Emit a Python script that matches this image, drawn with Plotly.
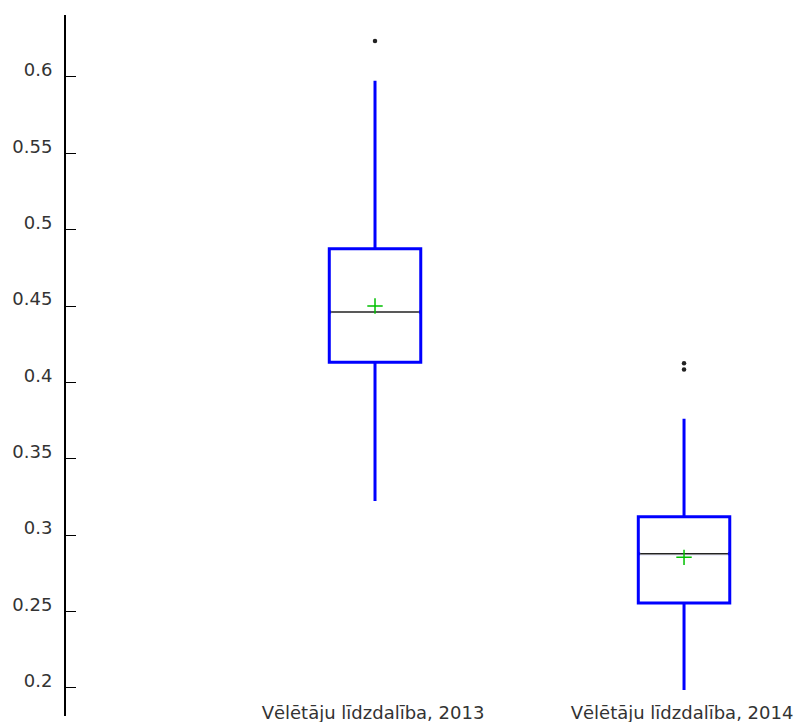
import plotly.graph_objects as go

# ---- data ----
categories = ["Vēlētāju līdzdalība, 2013", "Vēlētāju līdzdalība, 2014"]
positions = [1, 2]
q1_vals = [0.4131, 0.2555]
median_vals = [0.4461, 0.2878]
q3_vals = [0.4875, 0.3120]
lower_whisker = [0.3223, 0.1985]
upper_whisker = [0.5976, 0.3762]
mean_vals = [0.4500, 0.2854]
outliers = [[0.6236], [0.4125, 0.4085]]
y_tickvals = [0.2, 0.25, 0.3, 0.35, 0.4, 0.45, 0.5, 0.55, 0.6]
y_ticktext = ["0.2", "0.25", "0.3", "0.35", "0.4", "0.45", "0.5", "0.55", "0.6"]

# ---- style ----
BOX_W = 0.296
BLUE = "#0000ff"
GREEN = "#00c000"
TXT = "#333333"
FONT = "DejaVu Sans"

fig = go.Figure()

for i, pos in enumerate(positions):
    fig.add_trace(go.Box(
        x=[pos], q1=[q1_vals[i]], median=[median_vals[i]], q3=[q3_vals[i]],
        lowerfence=[lower_whisker[i]], upperfence=[upper_whisker[i]],
        width=BOX_W, whiskerwidth=0, boxpoints=False,
        line=dict(color=BLUE, width=3), fillcolor="rgba(255,255,255,0)",
        hoverinfo="skip", showlegend=False,
    ))
    # hide the blue median, then draw a black one
    eps = 0.006
    fig.add_trace(go.Scatter(
        x=[pos - BOX_W / 2 + eps, pos + BOX_W / 2 - eps],
        y=[median_vals[i], median_vals[i]], mode="lines",
        line=dict(color="white", width=4), hoverinfo="skip", showlegend=False,
    ))
    fig.add_trace(go.Scatter(
        x=[pos - BOX_W / 2 + eps, pos + BOX_W / 2 - eps],
        y=[median_vals[i], median_vals[i]], mode="lines",
        line=dict(color="#222222", width=1.5), hoverinfo="skip", showlegend=False,
    ))
    fig.add_trace(go.Scatter(
        x=[pos], y=[mean_vals[i]], mode="markers",
        marker=dict(symbol="cross-thin", size=11, line=dict(color=GREEN, width=1.5)),
        hoverinfo="skip", showlegend=False,
    ))
    fig.add_trace(go.Scatter(
        x=[pos] * len(outliers[i]), y=outliers[i], mode="markers",
        marker=dict(symbol="circle", size=4.5, color="#222222"),
        hoverinfo="skip", showlegend=False,
    ))

fig.update_layout(
    width=795, height=714,
    margin=dict(l=58, r=0, t=7, b=6, autoexpand=False),
    paper_bgcolor="white", plot_bgcolor="white",
    font=dict(family=FONT, color=TXT, size=16),
    showlegend=False,
)
fig.update_yaxes(
    automargin=False,
    range=[0.1815, 0.6406], tickvals=y_tickvals, ticktext=y_ticktext,
    ticks="inside", ticklen=10, tickwidth=1, tickcolor="black",
    showline=True, linecolor="black", linewidth=2,
    showgrid=False, zeroline=False, ticklabelstandoff=8, ticklabelshift=-7,
    tickfont=dict(family=FONT, size=18, color=TXT),
)
fig.update_xaxes(
    automargin=False,
    type="linear", range=[0, 2.385], tickvals=positions, ticktext=categories,
    ticks="", showline=False, showgrid=False, zeroline=False,
    ticklabelposition="inside", ticklabelstandoff=-10, ticklabeloverflow="allow",
    ticklabelshift=-2,
    tickfont=dict(family=FONT, size=18, color=TXT),
)

fig.write_html(
    "out.html",
    post_script="document.documentElement.style.overflow='hidden';"
                "document.body.style.overflow='hidden';",
)
